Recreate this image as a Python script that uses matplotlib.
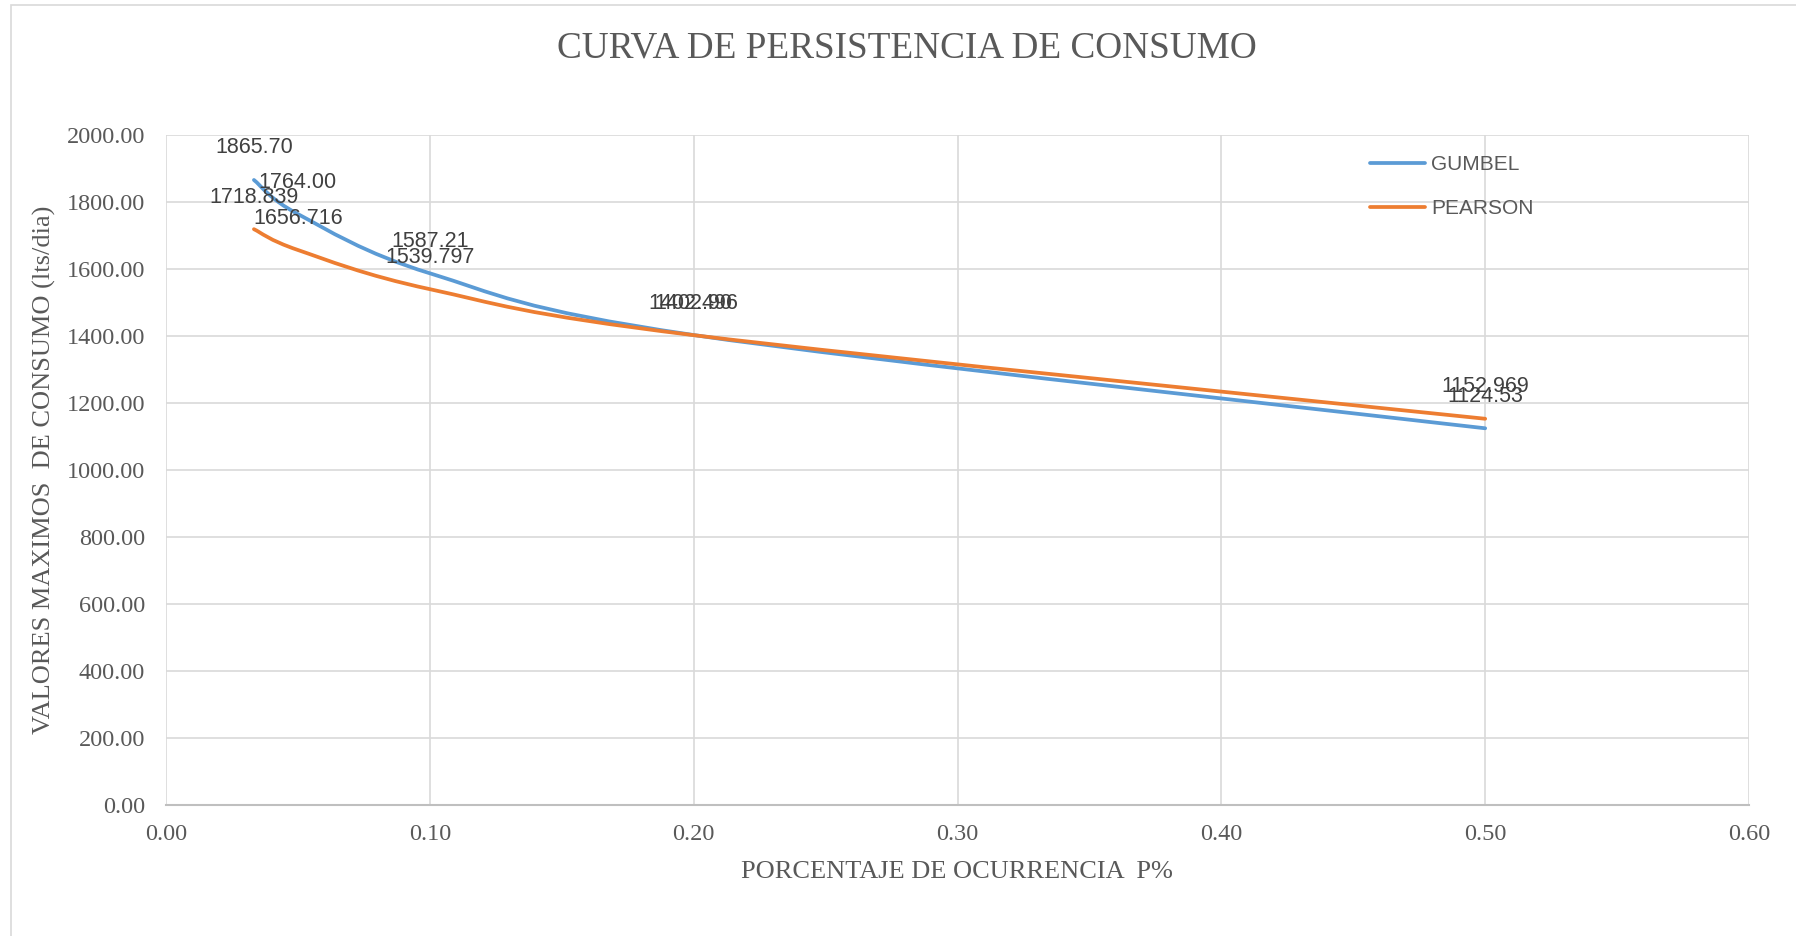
import numpy as np
import matplotlib
matplotlib.use('Agg')
import matplotlib.pyplot as plt
from matplotlib.path import Path
from matplotlib.patches import PathPatch, Rectangle

## Data ##
PROB = [1 / 30, 1 / 20, 1 / 10, 1 / 5, 1 / 2]
GUMBEL = [1865.70, 1764.00, 1587.21, 1402.90, 1124.53]
PEARSON = [1718.839, 1656.716, 1539.797, 1402.496, 1152.969]
GUMBEL_LABELS = ['1865.70', '1764.00', '1587.21', '1402.90', '1124.53']
PEARSON_LABELS = ['1718.839', '1656.716', '1539.797', '1402.496', '1152.969']
X_TICKS = [0.0, 0.1, 0.2, 0.3, 0.4, 0.5, 0.6]
Y_TICKS = [0, 200, 400, 600, 800, 1000, 1200, 1400, 1600, 1800, 2000]

BLUE = '#5B9BD5'
ORANGE = '#ED7D31'
GRID = '#d9d9d9'
TEXT = '#595959'
SERIF = 'Liberation Serif'
SANS = 'Liberation Sans'


# Excel-like smoothed line: cubic bezier through every point
def smooth_path(xs, ys):
    pts = np.column_stack([xs, ys]).astype(float)
    n = len(pts)
    verts = [pts[0]]
    codes = [Path.MOVETO]
    for i in range(n - 1):
        p0 = pts[max(i - 1, 0)]
        p1 = pts[i]
        p2 = pts[i + 1]
        p3 = pts[min(i + 2, n - 1)]
        c1 = p1 + (p2 - p0) / 6.0
        c2 = p2 - (p3 - p1) / 6.0
        verts += [c1, c2, p2]
        codes += [Path.CURVE4] * 3
    return Path(verts, codes)


fig = plt.figure(figsize=(17.96, 9.36), dpi=100)
fig.patches.append(Rectangle((11 / 1796, -0.01), 1.05, 1 - 5 / 936 + 0.01,
                             transform=fig.transFigure, fill=False,
                             edgecolor='#d9d9d9', linewidth=1.2))

ax = fig.add_axes([166 / 1796, 1 - 805 / 936, (1749 - 166) / 1796, (805 - 135) / 936])

for ys, color, name in [(GUMBEL, BLUE, 'GUMBEL'), (PEARSON, ORANGE, 'PEARSON')]:
    ax.add_patch(PathPatch(smooth_path(PROB, ys), facecolor='none', edgecolor=color,
                           linewidth=2.7, capstyle='round', zorder=3))
    ax.plot([], [], color=color, linewidth=2.7, label=name, solid_capstyle='round')

for xs, ys, labels in [(PROB, GUMBEL, GUMBEL_LABELS), (PROB, PEARSON, PEARSON_LABELS)]:
    for x, y, lab in zip(xs, ys, labels):
        ax.annotate(lab, (x, y), xytext=(0, 32), textcoords='offset pixels',
                    ha='center', va='center', fontsize=15.5, family=SANS,
                    color='#404040', zorder=4)

ax.set_xlim(0, 0.6)
ax.set_ylim(0, 2000)
ax.set_xticks(X_TICKS)
ax.set_yticks(Y_TICKS)
ax.set_xticklabels(['%.2f' % v for v in X_TICKS], family=SERIF, fontsize=17.5, color=TEXT)
ax.set_yticklabels(['%.2f' % v for v in Y_TICKS], family=SERIF, fontsize=17.5, color=TEXT)
ax.tick_params(axis='both', which='both', length=0)
ax.tick_params(axis='x', pad=14)
ax.tick_params(axis='y', pad=15)
ax.grid(True, color=GRID, linewidth=1.2)
ax.set_axisbelow(True)
for side in ['top', 'right', 'left']:
    ax.spines[side].set_visible(False)
ax.spines['bottom'].set_color('#bfbfbf')
ax.spines['bottom'].set_linewidth(1.5)

leg = ax.legend(loc='upper left', bbox_to_anchor=(1360 / 1796, 1 - 145 / 936),
                bbox_transform=fig.transFigure, frameon=False,
                prop={'family': SANS, 'size': 15}, handlelength=2.6,
                handletextpad=0.3, labelspacing=1.2, borderpad=0)
for t in leg.get_texts():
    t.set_color(TEXT)

fig.text(907 / 1796, 1 - 48 / 936, 'CURVA DE PERSISTENCIA DE CONSUMO', ha='center',
         va='center', family=SERIF, fontsize=26.8, color=TEXT)
fig.text(957 / 1796, 1 - 872 / 936, 'PORCENTAJE DE OCURRENCIA  P%', ha='center',
         va='center', family=SERIF, fontsize=19, color=TEXT)
fig.text(44 / 1796, 1 - 470 / 936, 'VALORES MAXIMOS  DE CONSUMO (lts/dia)', ha='center',
         va='center', rotation=90, family=SERIF, fontsize=19, color=TEXT)

fig.savefig('out.png', dpi=100)
